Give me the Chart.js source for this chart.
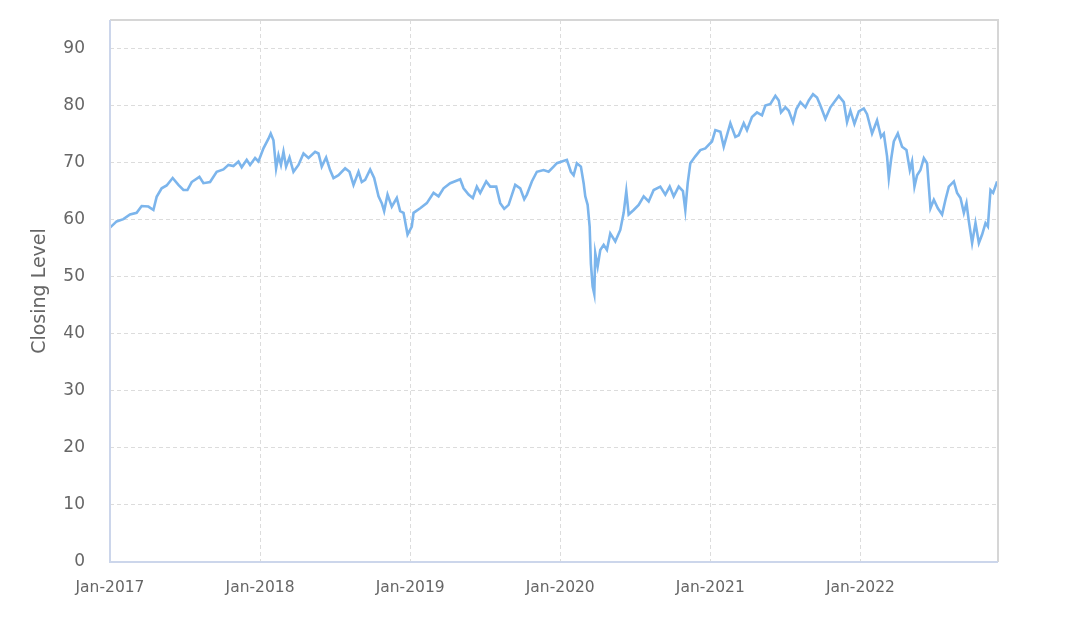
<!DOCTYPE html>
<html>
<head>
<meta charset="utf-8">
<script src="https://cdn.jsdelivr.net/npm/chart.js@4/dist/chart.umd.min.js"></script>
<style>
  body { margin: 0; background: #fff; }
</style>
</head>
<body>
<canvas id="myChart" width="1065" height="618"></canvas>
<script>
// months since Jan-2017
var meses = [
  0, 0.53, 1.07, 1.6, 2.13, 2.53, 3.07, 3.47, 3.73, 4.13, 4.53, 5.01, 5.47, 5.87, 6.19, 6.53,
  7.15, 7.47, 8, 8.53, 9.07, 9.47, 9.87, 10.27, 10.53, 10.93, 11.2, 11.6, 11.87,
  12.27, 12.67, 12.85, 13.07, 13.28, 13.47, 13.67, 13.87, 14.08, 14.35, 14.67, 15.07, 15.47,
  15.87, 16.4, 16.67, 16.93, 17.28, 17.6, 17.87, 18.27, 18.8, 19.15, 19.47, 19.87, 20.13,
  20.4, 20.8, 21.12, 21.47, 21.73, 21.92, 22.19, 22.53, 22.93, 23.2, 23.47, 23.79,
  24.13, 24.27, 24.8, 25.33, 25.87, 26.27, 26.67, 27.2, 28, 28.27, 28.67, 29.01, 29.33,
  29.6, 30.08, 30.4, 30.88, 31.2, 31.52, 31.87, 32.4, 32.8, 33.12, 33.33, 33.73, 34.13,
  34.67, 35.07, 35.47, 35.73,
  36.13, 36.53, 36.85, 37.07, 37.33, 37.65, 37.87, 38, 38.19, 38.35, 38.45, 38.59, 38.72,
  38.8, 38.99, 39.2, 39.47, 39.73, 40, 40.4, 40.8, 41.07, 41.28, 41.47, 41.87, 42.27,
  42.67, 43.07, 43.47, 44, 44.4, 44.75, 45.07, 45.47, 45.81, 46, 46.19, 46.4, 46.8,
  47.2, 47.6, 47.73,
  48.13, 48.4, 48.8, 49.07, 49.6, 50, 50.27, 50.67, 50.93, 51.33, 51.73, 52.13, 52.4,
  52.8, 53.2, 53.47, 53.65, 54, 54.27, 54.61, 54.88, 55.2, 55.6, 55.87, 56.21, 56.53,
  56.8, 57.2, 57.6, 58, 58.27, 58.67, 58.93, 59.2, 59.52, 59.87,
  60.27, 60.53, 60.93, 61.33, 61.65, 61.87, 62.13, 62.27, 62.45, 62.67, 62.99, 63.33,
  63.68, 63.95, 64.13, 64.32, 64.53, 64.8, 65.07, 65.33, 65.6, 65.87, 66.19, 66.53,
  66.8, 67.07, 67.47, 67.73, 68, 68.27, 68.48, 68.67, 68.93, 69.2, 69.47, 69.73, 70,
  70.19, 70.4, 70.61, 70.93
];

var fechamento = [
  58.6, 59.7, 60.1, 60.9, 61.2, 62.4, 62.3, 61.7, 64, 65.5, 66, 67.3, 66.1, 65.2, 65.2, 66.6,
  67.5, 66.4, 66.6, 68.4, 68.8, 69.6, 69.4, 70.2, 69.2, 70.5, 69.6, 70.8, 70.2,
  72.5, 74.2, 75.1, 73.9, 69, 71.3, 69.6, 71.9, 69.3, 70.9, 68.4, 69.6, 71.6,
  70.8, 71.9, 71.6, 69.3, 70.9, 68.7, 67.3, 67.8, 69, 68.4, 66.1, 68.4, 66.6,
  67, 68.8, 67.3, 64.1, 62.9, 61.5, 64.4, 62.3, 63.8, 61.5, 61.2, 57.4,
  58.8, 61.2, 62, 62.9, 64.7, 64.1, 65.5, 66.4, 67.1, 65.5, 64.4, 63.8, 65.8,
  64.7, 66.7, 65.8, 65.8, 62.9, 61.9, 62.6, 66.1, 65.5, 63.6, 64.4, 66.7, 68.4,
  68.7, 68.4, 69.3, 69.9,
  70.2, 70.5, 68.4, 67.8, 69.9, 69.3, 66.4, 64.1, 62.6, 58.8, 52.3, 48.3, 47,
  54.1, 51.8, 54.7, 55.6, 54.7, 57.6, 56.2, 58.2, 61.2, 65, 60.9, 61.7, 62.6,
  64.1, 63.2, 65.2, 65.8, 64.4, 65.8, 64.1, 65.8, 65, 61.7, 66.4, 69.9, 71.1,
  72.2, 72.5, 72.8,
  73.7, 75.7, 75.4, 72.8, 76.9, 74.5, 74.8, 76.9, 75.7, 78, 78.8, 78.3, 80,
  80.3, 81.7, 80.9, 78.8, 79.7, 79.1, 77.1, 79.4, 80.6, 79.7, 80.9, 82, 81.4,
  80, 77.7, 79.7, 80.9, 81.7, 80.6, 77.1, 79.1, 76.8, 79,
  79.5, 78.5, 75.1, 77.4, 74.5, 75.1, 71.1, 67.3, 70.5, 73.7, 75.1, 72.8,
  72.2, 68.7, 70.2, 65.8, 67.8, 68.7, 70.8, 69.9, 62, 63.5, 62, 60.9,
  63.5, 65.8, 66.7, 64.7, 63.8, 61.2, 62.9, 59.7, 55.9, 59.4, 55.9, 57.4, 59.4,
  58.8, 65.2, 64.7, 66.7
];

var anosTicks = [0, 12, 24, 36, 48, 60];
var anosLabels = ["Jan-2017", "Jan-2018", "Jan-2019", "Jan-2020", "Jan-2021", "Jan-2022"];

var pontos = [];
for (var i = 0; i < meses.length; i++) {
  pontos.push({ x: meses[i], y: fechamento[i] });
}

// light frame round the plot area
var moldura = {
  id: "moldura",
  afterDraw: function (chart) {
    var a = chart.chartArea;
    var c = chart.ctx;
    c.save();
    c.strokeStyle = "#d6d6d6";
    c.lineWidth = 2;
    c.beginPath();
    c.moveTo(a.left, a.top);
    c.lineTo(a.right, a.top);
    c.lineTo(a.right, a.bottom);
    c.stroke();
    c.strokeStyle = "#ccd6eb";
    c.beginPath();
    c.moveTo(a.left, a.top);
    c.lineTo(a.left, a.bottom);
    c.lineTo(a.right, a.bottom);
    c.stroke();
    c.restore();
  },
};

var ctx = document.getElementById("myChart");
var myChart = new Chart(ctx, {
  type: "line",
  data: {
    datasets: [
      {
        data: pontos,
        borderColor: "#7cb5ec",
        borderWidth: 2.6,
        pointRadius: 0,
        tension: 0,
        fill: false,
      },
    ],
  },
  options: {
    responsive: false,
    animation: false,
    layout: { padding: { top: 20, right: 67, bottom: 0, left: 0 } },
    plugins: { legend: { display: false }, tooltip: { enabled: false } },
    scales: {
      x: {
        type: "linear",
        min: 0,
        max: 71,
        afterBuildTicks: function (s) {
          s.ticks = anosTicks.map(function (v) { return { value: v }; });
        },
        afterFit: function (s) { s.height = 56; },
        ticks: {
          autoSkip: false,
          maxRotation: 0,
          padding: 17,
          color: "#666",
          font: { family: "DejaVu Sans", size: 15.5 },
          callback: function (v) {
            var k = anosTicks.indexOf(v);
            return k >= 0 ? anosLabels[k] : "";
          },
        },
        grid: { color: "#dcdcdc", drawTicks: false },
        border: { display: false, dash: [4, 3] },
      },
      y: {
        min: 0,
        max: 95,
        afterBuildTicks: function (s) {
          var t = [];
          for (var v = 0; v <= 90; v += 10) t.push({ value: v });
          s.ticks = t;
        },
        afterFit: function (s) {
          s.width = 110;
          s.paddingTop = 0;
          s.paddingBottom = 0;
        },
        ticks: {
          padding: 25,
          color: "#666",
          font: { family: "DejaVu Sans", size: 17 },
        },
        grid: { color: "#dcdcdc", drawTicks: false },
        border: { display: false, dash: [4, 3] },
        title: {
          display: true,
          text: "Closing Level",
          color: "#666",
          font: { family: "DejaVu Sans", size: 19 },
          padding: { top: 29, bottom: 0 },
        },
      },
    },
  },
  plugins: [moldura],
});
</script>
</body>
</html>
